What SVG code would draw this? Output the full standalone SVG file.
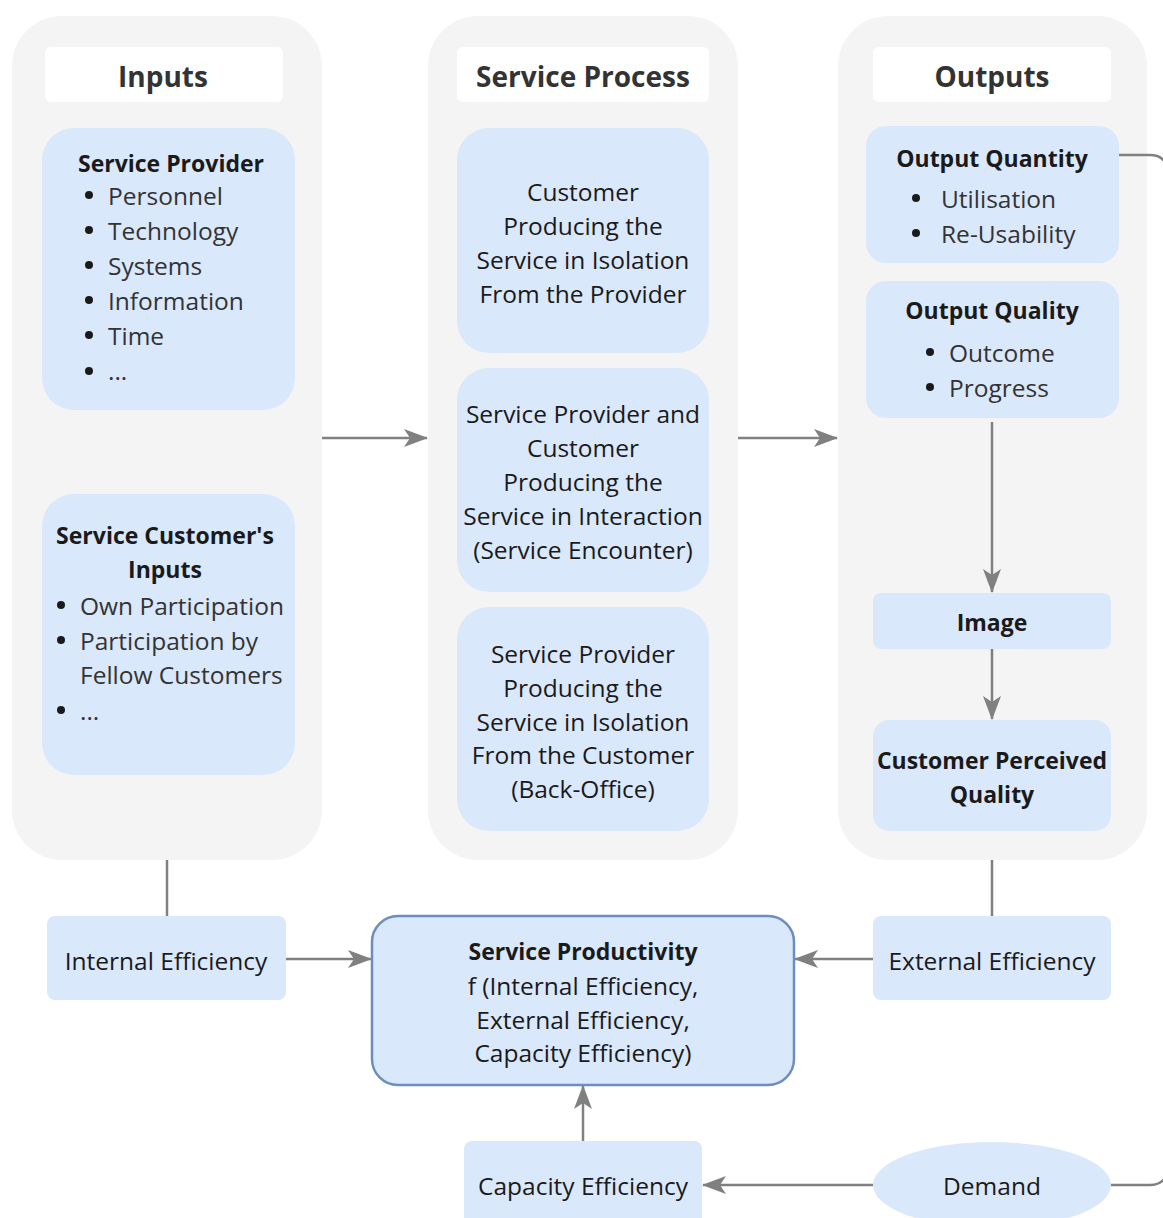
<svg xmlns="http://www.w3.org/2000/svg" width="1163" height="1218" viewBox="0 0 1163 1218">
<defs>
<style>
.col{fill:#f4f4f4;}
.hdr{fill:#ffffff;}
.node{fill:#dae8fc;}
.sp{fill:#dae8fc;stroke:#6c8ebf;stroke-width:2.5;}
.dot{fill:#1a1a1a;}
text{font-family:"Open Sans","Noto Sans","Liberation Sans",sans-serif;font-size:24.5px;fill:#1a1a1a;dominant-baseline:central;}
.h{font-size:28px;font-weight:bold;fill:#333;text-anchor:middle;}
.b{font-weight:bold;font-size:23px;}
.c{text-anchor:middle;}
.li{fill:#333;}
.edge{fill:none;stroke:#808080;stroke-width:2.5;}
</style>
<marker id="arrL" viewBox="0 0 24 20" refX="23" refY="10" markerWidth="24" markerHeight="20" markerUnits="userSpaceOnUse" orient="auto">
<path d="M0,1 L24,10 L0,19 L6,10 Z" fill="#808080"/>
</marker>
</defs>

<g id="col-inputs"><rect class="col" x="12" y="16" width="310" height="844" rx="50"/></g>
<g id="col-process"><rect class="col" x="428" y="16" width="310" height="844" rx="50"/></g>
<g id="col-outputs"><rect class="col" x="838" y="16" width="309" height="844" rx="50"/></g>

<g id="connectors">
<path class="edge" d="M322,438 L427,438" marker-end="url(#arrL)"/>
<path class="edge" d="M738,438 L837,438" marker-end="url(#arrL)"/>
<path class="edge" d="M992,422 L992,592" marker-end="url(#arrL)"/>
<path class="edge" d="M992,649 L992,719" marker-end="url(#arrL)"/>
<path class="edge" d="M167,860 L167,916"/>
<path class="edge" d="M992,860 L992,916"/>
<path class="edge" d="M286,959 L371,959" marker-end="url(#arrL)"/>
<path class="edge" d="M873,959 L795,959" marker-end="url(#arrL)"/>
<path class="edge" d="M583,1141 L583,1086" marker-end="url(#arrL)"/>
<path class="edge" d="M873,1185 L703,1185" marker-end="url(#arrL)"/>
<path class="edge" d="M1119,155 L1150,155 Q1165,155 1168,170 L1168,1170 Q1165,1185 1150,1185 L1111,1185"/>
</g>

<g id="hdr-inputs"><rect class="hdr" x="45" y="47" width="238" height="55" rx="6"/><text class="h" x="163" y="76">Inputs</text></g>
<g id="hdr-process"><rect class="hdr" x="457" y="47" width="252" height="55" rx="6"/><text class="h" x="583" y="76">Service Process</text></g>
<g id="hdr-outputs"><rect class="hdr" x="873" y="47" width="238" height="55" rx="6"/><text class="h" x="992" y="76">Outputs</text></g>

<g id="service-provider">
<rect class="node" x="42" y="128" width="253" height="282" rx="32"/>
<text class="b c" x="171" y="163">Service Provider</text>
<circle class="dot" cx="89" cy="195" r="4"/><text class="li" x="108" y="195">Personnel</text>
<circle class="dot" cx="89" cy="230" r="4"/><text class="li" x="108" y="230">Technology</text>
<circle class="dot" cx="89" cy="265" r="4"/><text class="li" x="108" y="265">Systems</text>
<circle class="dot" cx="89" cy="300" r="4"/><text class="li" x="108" y="300">Information</text>
<circle class="dot" cx="89" cy="335" r="4"/><text class="li" x="108" y="335">Time</text>
<circle class="dot" cx="89" cy="371" r="4"/><text class="li" x="108" y="370">...</text>
</g>

<g id="customer-inputs">
<rect class="node" x="42" y="494" width="253" height="281" rx="32"/>
<text class="b c" x="165" y="535">Service Customer's</text>
<text class="b c" x="165" y="569">Inputs</text>
<circle class="dot" cx="61" cy="605" r="4"/><text class="li" x="80" y="605">Own Participation</text>
<circle class="dot" cx="61" cy="640" r="4"/><text class="li" x="80" y="640">Participation by</text>
<text class="li" x="80" y="674">Fellow Customers</text>
<circle class="dot" cx="61" cy="710" r="4"/><text class="li" x="80" y="710">...</text>
</g>

<g id="process-1">
<rect class="node" x="457" y="128" width="252" height="225" rx="32"/>
<text class="c" x="583" y="191">Customer</text>
<text class="c" x="583" y="225">Producing the</text>
<text class="c" x="583" y="259">Service in Isolation</text>
<text class="c" x="583" y="293">From the Provider</text>
</g>

<g id="process-2">
<rect class="node" x="457" y="368" width="252" height="224" rx="32"/>
<text class="c" x="583" y="413">Service Provider and</text>
<text class="c" x="583" y="447">Customer</text>
<text class="c" x="583" y="481">Producing the</text>
<text class="c" x="583" y="515">Service in Interaction</text>
<text class="c" x="583" y="549">(Service Encounter)</text>
</g>

<g id="process-3">
<rect class="node" x="457" y="607" width="252" height="224" rx="32"/>
<text class="c" x="583" y="653">Service Provider</text>
<text class="c" x="583" y="687">Producing the</text>
<text class="c" x="583" y="721">Service in Isolation</text>
<text class="c" x="583" y="754">From the Customer</text>
<text class="c" x="583" y="788">(Back-Office)</text>
</g>

<g id="output-quantity">
<rect class="node" x="866" y="126" width="253" height="137" rx="20"/>
<text class="b c" x="992" y="158">Output Quantity</text>
<circle class="dot" cx="916" cy="198" r="4"/><text class="li" x="941" y="198">Utilisation</text>
<circle class="dot" cx="916" cy="233" r="4"/><text class="li" x="941" y="233">Re-Usability</text>
</g>

<g id="output-quality">
<rect class="node" x="866" y="281" width="253" height="137" rx="20"/>
<text class="b c" x="992" y="310">Output Quality</text>
<circle class="dot" cx="930" cy="352" r="4"/><text class="li" x="949" y="352">Outcome</text>
<circle class="dot" cx="930" cy="387" r="4"/><text class="li" x="949" y="387">Progress</text>
</g>

<g id="image">
<rect class="node" x="873" y="593" width="238" height="56" rx="8"/>
<text class="b c" x="992" y="622">Image</text>
</g>

<g id="customer-perceived-quality">
<rect class="node" x="873" y="720" width="238" height="111" rx="16"/>
<text class="b c" x="992" y="760">Customer Perceived</text>
<text class="b c" x="992" y="794">Quality</text>
</g>

<g id="internal-efficiency">
<rect class="node" x="47" y="916" width="239" height="84" rx="8"/>
<text class="c" x="166" y="960">Internal Efficiency</text>
</g>

<g id="service-productivity">
<rect class="sp" x="372" y="916" width="422" height="169" rx="26"/>
<text class="b c" x="583" y="951">Service Productivity</text>
<text class="c" x="583" y="985">f (Internal Efficiency,</text>
<text class="c" x="583" y="1019">External Efficiency,</text>
<text class="c" x="583" y="1052">Capacity Efficiency)</text>
</g>

<g id="external-efficiency">
<rect class="node" x="873" y="916" width="238" height="84" rx="8"/>
<text class="c" x="992" y="960">External Efficiency</text>
</g>

<g id="capacity-efficiency">
<rect class="node" x="464" y="1141" width="238" height="90" rx="8"/>
<text class="c" x="583" y="1185">Capacity Efficiency</text>
</g>

<g id="demand">
<ellipse class="node" cx="992" cy="1185" rx="119" ry="43"/>
<text class="c" x="992" y="1185">Demand</text>
</g>
</svg>
